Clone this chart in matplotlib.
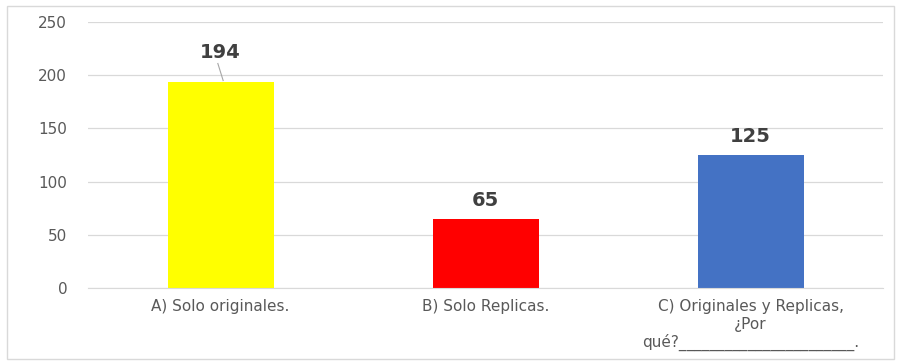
import matplotlib.pyplot as plt
from matplotlib.patches import Rectangle

categories = ["A) Solo originales.", "B) Solo Replicas.",
              "C) Originales y Replicas,\n¿Por\nqué?_______________________."]
values = [194, 65, 125]
colors = ["#FFFF00", "#FF0000", "#4472C4"]

fig = plt.figure(figsize=(9.01, 3.63), dpi=100)
ax = fig.add_axes([88 / 901, 1 - 288 / 363, 795 / 901, 266 / 363])

x = range(len(values))
ax.bar(x, values, width=0.4, color=colors, zorder=2)
ax.set_xlim(-0.5, 2.5)
ax.set_ylim(0, 250)
ax.set_yticks(range(0, 251, 50))
ax.yaxis.grid(True, color="#D9D9D9", linewidth=0.9, zorder=0)
for s in ["top", "right", "left"]:
    ax.spines[s].set_visible(False)
ax.spines["bottom"].set_color("#D9D9D9")
ax.tick_params(length=0, colors="#595959", labelsize=11)
ax.tick_params(axis="y", pad=15)
ax.tick_params(axis="x", pad=8)
ax.set_xticks(list(x))
ax.set_xticklabels(categories, linespacing=1.2)

# data labels (first one sits higher, with a leader line)
offsets = [18, 8, 8]
for i, (v, o) in enumerate(zip(values, offsets)):
    ax.text(i, v + o, str(v), ha="center", va="bottom", fontsize=14,
            fontweight="bold", color="#404040")
ax.plot([-0.01, 0.01], [values[0] + 17, values[0] + 1], color="#A6A6A6", lw=0.8)

fig.patches.append(Rectangle((7 / 901, 4 / 363), 887 / 901, 353 / 363,
                             transform=fig.transFigure, fill=False,
                             edgecolor="#D9D9D9", lw=1))
fig.savefig("out.png", dpi=100)
